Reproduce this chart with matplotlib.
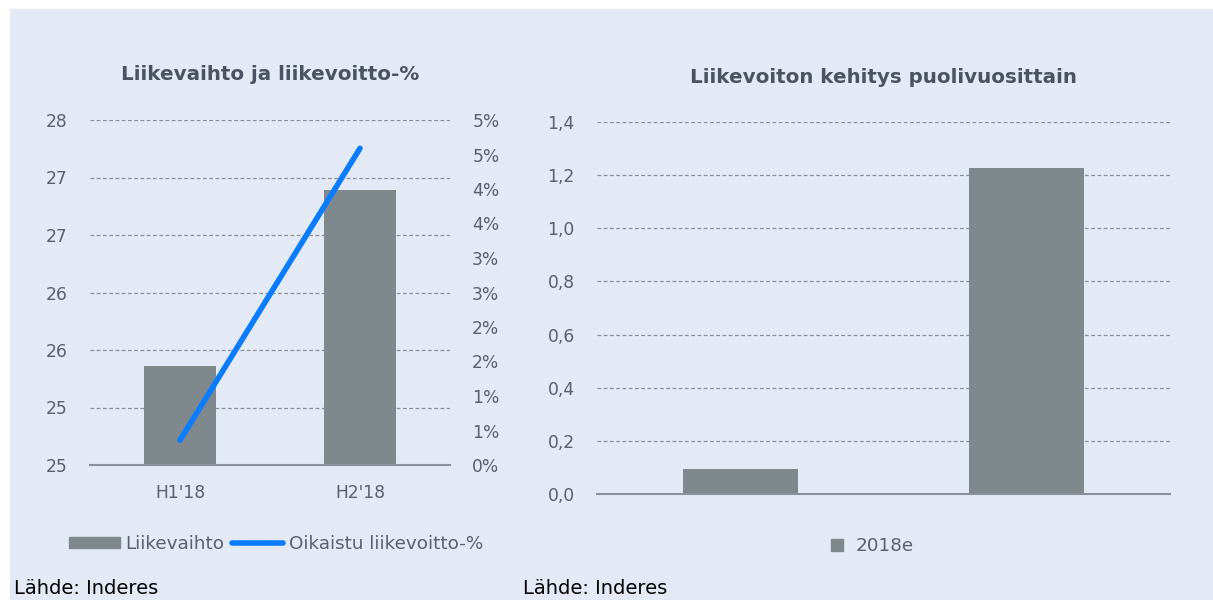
import matplotlib.pyplot as plt
import matplotlib.patches as mpatches
from matplotlib.lines import Line2D

# ---------------------------------------------------------------------------
# Data
# ---------------------------------------------------------------------------
HALVES = ["H1'18", "H2'18"]
REVENUE = [25.86, 27.39]            # Liikevaihto
EBIT_PCT = [0.0036, 0.0459]         # Oikaistu liikevoitto-%

LEFT_TICKS = [25, 25.5, 26, 26.5, 27, 27.5, 28]
LEFT_TICK_LABELS = ["25", "25", "26", "26", "27", "27", "28"]
PCT_TICKS = [0, 0.005, 0.01, 0.015, 0.02, 0.025, 0.03, 0.035, 0.04, 0.045, 0.05]
PCT_TICK_LABELS = ["0%", "1%", "1%", "2%", "2%", "3%", "3%", "4%", "4%", "5%", "5%"]

EBIT_CATS = ["", " "]
EBIT_2018E = [0.094, 1.228]
RIGHT_TICKS = [0, 0.2, 0.4, 0.6, 0.8, 1.0, 1.2, 1.4]
RIGHT_TICK_LABELS = ["0,0", "0,2", "0,4", "0,6", "0,8", "1,0", "1,2", "1,4"]

# ---------------------------------------------------------------------------
# Style
# ---------------------------------------------------------------------------
BG = "#e4eaf5"
BAR = "#7f888d"
LINE = "#0a7cff"
GRID = "#8a9099"
TXT = "#5a606b"
TITLE = "#4b5362"
FS = 12.3
LEG_FS = 13.2
TITLE_FS = 14.3

plt.rcParams["font.family"] = ["DejaVu Sans"]

fig = plt.figure(figsize=(12.13, 6.0), dpi=100, facecolor="white")
fig.patches.append(mpatches.Rectangle((10 / 1213, 0), 1, 591 / 600,
                                      transform=fig.transFigure,
                                      color=BG, zorder=-10))


def style_axis(ax):
    ax.patch.set_alpha(0)
    for s in ("top", "right", "left"):
        ax.spines[s].set_visible(False)
    ax.spines["bottom"].set_color(GRID)
    ax.spines["bottom"].set_linewidth(1.5)
    ax.tick_params(length=0, colors=TXT, labelsize=FS)
    ax.yaxis.grid(True, ls=(0, (3, 2)), color=GRID, lw=0.9)
    ax.set_axisbelow(True)


# ── Left: revenue + EBIT-% ────────────────────────────────────────────────
ax1 = fig.add_axes([90 / 1213, 135 / 600, 360 / 1213, 345 / 600])
style_axis(ax1)
ax1.bar(HALVES, REVENUE, width=0.4, color=BAR, zorder=2)
ax1.set_ylim(25, 28)
ax1.set_xlim(-0.5, 1.5)
ax1.set_yticks(LEFT_TICKS)
ax1.set_yticklabels(LEFT_TICK_LABELS)
ax1.tick_params(axis="y", pad=16)
ax1.tick_params(axis="x", pad=14)
ax1.set_title("Liikevaihto ja liikevoitto-%", fontsize=TITLE_FS, fontweight="bold",
              color=TITLE, pad=29)

ax1b = ax1.twinx()
ax1b.plot([0, 1], EBIT_PCT, color=LINE, lw=4, solid_capstyle="round", zorder=3)
ax1b.set_ylim(0, 0.05)
ax1b.set_yticks(PCT_TICKS)
ax1b.set_yticklabels(PCT_TICK_LABELS)
for s in ax1b.spines.values():
    s.set_visible(False)
ax1b.tick_params(length=0, colors=TXT, labelsize=FS, pad=16)

handles = [mpatches.Patch(color=BAR, label="Liikevaihto"),
           Line2D([], [], color=LINE, lw=4, solid_capstyle="round",
                  label="Oikaistu liikevoitto-%")]
leg1 = fig.legend(handles=handles, loc="center", bbox_to_anchor=(276 / 1213, 1 - 544 / 600),
                  ncol=2, frameon=False, fontsize=LEG_FS, handlelength=2.8,
                  handletextpad=0.3, columnspacing=0.4, handleheight=0.5)
for t in leg1.get_texts():
    t.set_color(TXT)

# ── Right: EBIT by half-year ──────────────────────────────────────────────
ax2 = fig.add_axes([597 / 1213, 106 / 600, 573 / 1213, 372 / 600])
style_axis(ax2)
ax2.bar(EBIT_CATS, EBIT_2018E, width=0.4, color=BAR, zorder=2, label="2018e")
ax2.set_ylim(0, 1.4)
ax2.set_xlim(-0.5, 1.5)
ax2.set_yticks(RIGHT_TICKS)
ax2.set_yticklabels(RIGHT_TICK_LABELS)
ax2.tick_params(axis="y", pad=16)
ax2.set_title("Liikevoiton kehitys puolivuosittain", fontsize=TITLE_FS, fontweight="bold",
              color=TITLE, pad=28)

leg2 = fig.legend(handles=[Line2D([], [], marker="s", ls="none", color=BAR,
                                  markersize=8, label="2018e")],
                  loc="center", bbox_to_anchor=(866 / 1213, 1 - 546 / 600),
                  frameon=False, fontsize=LEG_FS, handletextpad=0.0)
for t in leg2.get_texts():
    t.set_color(TXT)

# Source lines at the bottom edge
fig.text(14 / 1213, 2 / 600, "Lähde: Inderes", fontsize=14, color="black",
         ha="left", va="bottom")
fig.text(523 / 1213, 2 / 600, "Lähde: Inderes", fontsize=14, color="black",
         ha="left", va="bottom")

fig.savefig("out.png", dpi=100, facecolor="white")
